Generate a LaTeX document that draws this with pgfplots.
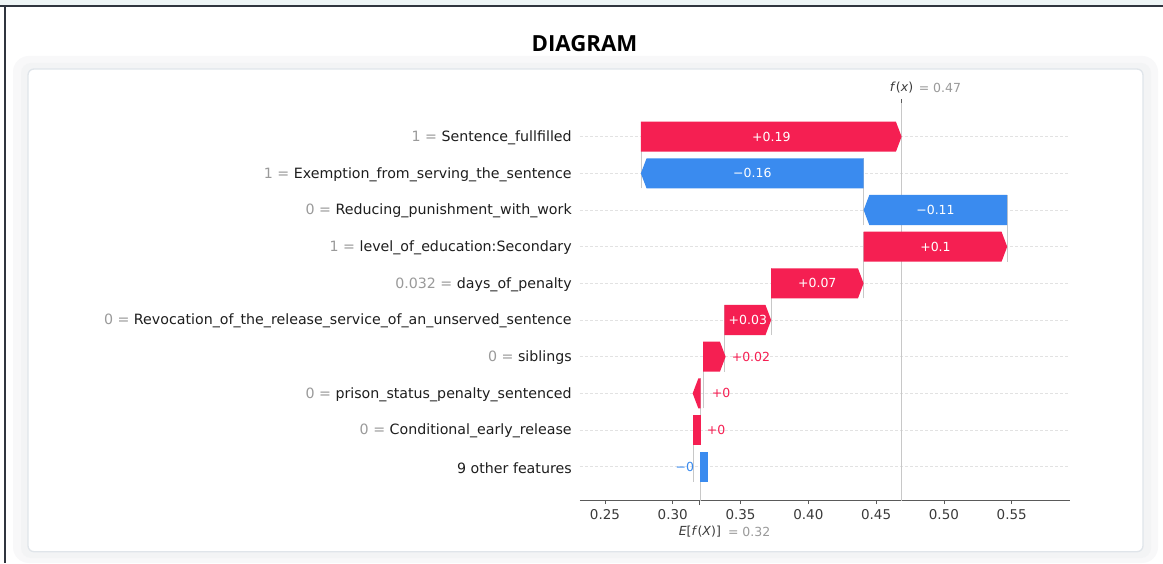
\documentclass[border=0pt]{standalone}
\usepackage{pgfplots}
\pgfplotsset{compat=1.18}
\usepackage{fontspec}
\setmainfont{DejaVu Sans}
\newfontfamily\titlefont{Open Sans}
\definecolor{shapred}{HTML}{F51F52}
\definecolor{shapblue}{HTML}{3A8BEF}
\definecolor{valgray}{HTML}{9A9A9A}
\definecolor{gridgray}{HTML}{E2E2E2}
\definecolor{linegray}{HTML}{C8C8C8}
\definecolor{axisgray}{HTML}{5A5A5A}
\definecolor{ticktext}{HTML}{3A3A3A}
\definecolor{labeltext}{HTML}{1E1E1E}
\definecolor{topstrip}{HTML}{EEF5F6}
\definecolor{frameline}{HTML}{30353F}
\definecolor{shadowA}{HTML}{F8F8F9}
\definecolor{shadowB}{HTML}{F3F4F5}
\definecolor{cardborder}{HTML}{E0E5EA}
\newcommand\gv[1]{\textcolor{valgray}{#1}}
\begin{document}
\begin{tikzpicture}[x=1pt,y=1pt]
\path[use as bounding box] (0,0) rectangle (1163,563);
\fill[white] (0,0) rectangle (1163,563);
\fill[topstrip] (0,558) rectangle (1163,563);
\fill[frameline] (0,556) rectangle (1163,558.3);
\fill[frameline] (3.8,0) rectangle (6.2,558.3);
\fill[shadowA, rounded corners=16pt] (13,0) rectangle (1158,507);
\fill[shadowB, rounded corners=10pt] (21,5) rectangle (1151,500);
\filldraw[fill=white, draw=cardborder, line width=1.3pt, rounded corners=6pt] (28,11.3) rectangle (1143,494);
\node[font=\titlefont\bfseries\fontsize{22.2}{26}\selectfont, text=black] at (584.5,519.5) {DIAGRAM};
\begin{axis}[
  at={(580pt,62.3pt)}, anchor=south west,
  width=490pt, height=398pt, scale only axis,
  xmin=0.2316, xmax=0.5930, ymin=0.073, ymax=10.927,
  clip=false,
  separate axis lines,
  axis x line*=bottom,
  axis y line*=left,
  y axis line style={draw=none},
  x axis line style={draw=axisgray, line width=1pt, -},
  tick align=outside,
  major tick length=3.5pt,
  xtick={0.25,0.3,0.35,0.4,0.45,0.5,0.55},
  extra x ticks={0.32},
  extra x tick labels={},
  extra x tick style={major tick length=4.5pt},
  x tick style={axisgray, line width=0.8pt},
  y tick style={draw=none},
  xticklabel style={font=\fontsize{13.5}{16}\selectfont, text=ticktext, yshift=-1.5pt, /pgf/number format/.cd, fixed, fixed zerofill, precision=2, assume math mode=true},
  ytick={1,2,3,4,5,6,7,8,9,10},
  yticklabels={
    {9 other features},
    {\gv{0 =} Conditional\_early\_release},
    {\gv{0 =} prison\_status\_penalty\_sentenced},
    {\gv{0 =} siblings},
    {\gv{0 =} Revocation\_of\_the\_release\_service\_of\_an\_unserved\_sentence},
    {\gv{0.032 =} days\_of\_penalty},
    {\gv{1 =} level\_of\_education:Secondary},
    {\gv{0 =} Reducing\_punishment\_with\_work},
    {\gv{1 =} Exemption\_from\_serving\_the\_sentence},
    {\gv{1 =} Sentence\_fullfilled}},
  yticklabel style={font=\fontsize{14.2}{17}\selectfont, text=labeltext, inner sep=0pt, anchor=east, xshift=-4.6pt, yshift=-1.2pt},
  ymajorgrids,
  y grid style={gridgray, line width=0.6pt, dash pattern=on 3pt off 2pt},
]
% reference lines
\addplot[linegray, line width=0.6pt, forget plot] coordinates {(0.4688,0.073) (0.4688,10.927)};
\addplot[linegray, line width=0.6pt, forget plot] coordinates {(0.3200,0.073) (0.3200,1.158)};
% connectors
\addplot[linegray, line width=0.5pt, forget plot] coordinates {(0.2765,8.59) (0.2765,10.41)};
\addplot[linegray, line width=0.5pt, forget plot] coordinates {(0.4408,7.59) (0.4408,9.41)};
\addplot[linegray, line width=0.5pt, forget plot] coordinates {(0.5467,6.59) (0.5467,8.41)};
\addplot[linegray, line width=0.5pt, forget plot] coordinates {(0.4408,5.59) (0.4408,7.41)};
\addplot[linegray, line width=0.5pt, forget plot] coordinates {(0.3726,4.59) (0.3726,6.41)};
\addplot[linegray, line width=0.5pt, forget plot] coordinates {(0.3380,3.59) (0.3380,5.41)};
\addplot[linegray, line width=0.5pt, forget plot] coordinates {(0.3225,2.59) (0.3225,4.41)};
\addplot[linegray, line width=0.5pt, forget plot] coordinates {(0.3206,1.59) (0.3206,3.41)};
\addplot[linegray, line width=0.5pt, forget plot] coordinates {(0.3151,0.59) (0.3151,2.41)};
% bars (arrow polygons)
\addplot[fill=shapred, draw=none, forget plot] coordinates {(0.2765,9.59) (0.4646,9.59) (0.4688,10) (0.4646,10.41) (0.2765,10.41)} -- cycle;
\addplot[fill=shapblue, draw=none, forget plot] coordinates {(0.4408,8.59) (0.2807,8.59) (0.2765,9) (0.2807,9.41) (0.4408,9.41)} -- cycle;
\addplot[fill=shapblue, draw=none, forget plot] coordinates {(0.5467,7.59) (0.4450,7.59) (0.4408,8) (0.4450,8.41) (0.5467,8.41)} -- cycle;
\addplot[fill=shapred, draw=none, forget plot] coordinates {(0.4408,6.59) (0.5425,6.59) (0.5467,7) (0.5425,7.41) (0.4408,7.41)} -- cycle;
\addplot[fill=shapred, draw=none, forget plot] coordinates {(0.3726,5.59) (0.4366,5.59) (0.4408,6) (0.4366,6.41) (0.3726,6.41)} -- cycle;
\addplot[fill=shapred, draw=none, forget plot] coordinates {(0.3380,4.59) (0.3684,4.59) (0.3726,5) (0.3684,5.41) (0.3380,5.41)} -- cycle;
\addplot[fill=shapred, draw=none, forget plot] coordinates {(0.3225,3.59) (0.3348,3.59) (0.3390,4) (0.3348,4.41) (0.3225,4.41)} -- cycle;
\addplot[fill=shapred, draw=none, forget plot] coordinates {(0.3206,2.59) (0.3189,2.59) (0.3147,3) (0.3189,3.41) (0.3206,3.41)} -- cycle;
\addplot[fill=shapred, draw=none, forget plot] coordinates {(0.3151,1.59) (0.3208,1.59) (0.3208,2.41) (0.3151,2.41)} -- cycle;
\addplot[fill=shapblue, draw=none, forget plot] coordinates {(0.3200,0.59) (0.3257,0.59) (0.3257,1.41) (0.3200,1.41)} -- cycle;
% value labels
\begin{scope}[every node/.style={font=\fontsize{12.5}{14}\selectfont, inner sep=0pt}]
\node[text=white] at (0.3727,10) {+0.19};
\node[text=white] at (0.3587,9) {−0.16};
\node[text=white] at (0.4938,8) {−0.11};
\node[text=white] at (0.4938,7) {+0.1};
\node[text=white] at (0.4066,6) {+0.07};
\node[text=white] at (0.3554,5) {+0.03};
\node[text=shapred, anchor=west] at (0.3434,4) {+0.02};
\node[text=shapred, anchor=west] at (0.3287,3) {+0};
\node[text=shapred, anchor=west] at (0.3250,2) {+0};
\node[text=shapblue, anchor=east] at (0.3158,1) {−0};
\end{scope}
% top tick and labels
\draw[axisgray, line width=0.8pt] (0.4688,10.927) -- ([yshift=4pt]0.4688,10.927);
\node[font=\fontsize{12.5}{14}\selectfont, text=ticktext, inner sep=0pt, yshift=14.7pt] at (0.4688,10.927) {\textit{f}(\textit{x})};
\node[font=\fontsize{12.5}{14}\selectfont, text=valgray, inner sep=0pt, anchor=west, xshift=17pt, yshift=14.7pt] at (0.4688,10.927) {= 0.47};
\node[font=\fontsize{12.5}{14}\selectfont, text=ticktext, inner sep=0pt, yshift=-31pt] at (0.3200,0.073) {\textit{E}[\textit{f}(\textit{X})]};
\node[font=\fontsize{12.5}{14}\selectfont, text=valgray, inner sep=0pt, anchor=west, xshift=28pt, yshift=-31pt] at (0.3200,0.073) {= 0.32};
\end{axis}
\end{tikzpicture}
\end{document}
